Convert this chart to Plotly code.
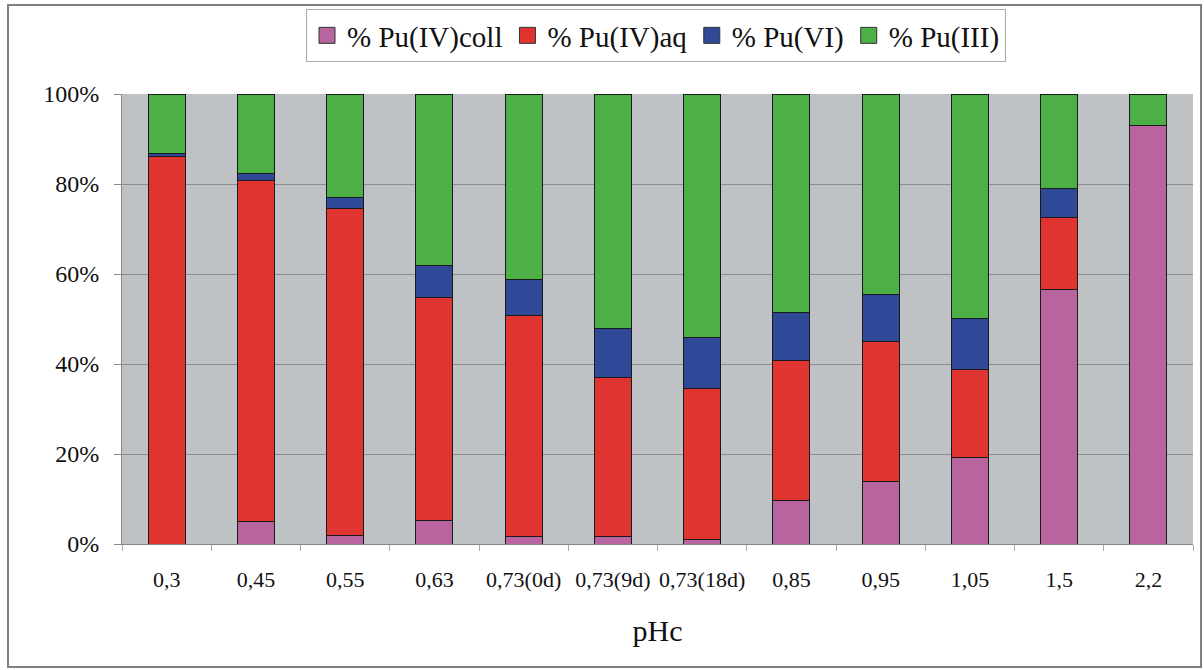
import plotly.graph_objects as go

categories = ["0,3", "0,45", "0,55", "0,63", "0,73(0d)", "0,73(9d)", "0,73(18d)",
              "0,85", "0,95", "1,05", "1,5", "2,2"]
pu_iv_coll = [0.0, 5.0, 1.9, 5.3, 1.6, 1.6, 1.0, 9.6, 13.8, 19.2, 56.6, 93.1]
pu_iv_aq = [86.2, 75.7, 72.6, 49.4, 49.2, 35.3, 33.6, 31.2, 31.3, 19.6, 16.0, 0.0]
pu_vi = [0.6, 1.6, 2.4, 7.3, 8.0, 11.1, 11.4, 10.6, 10.3, 11.3, 6.4, 0.0]
pu_iii = [13.2, 17.7, 23.1, 38.0, 41.2, 52.0, 54.0, 48.6, 44.6, 49.9, 21.0, 6.9]

series = [
    ("% Pu(IV)coll", pu_iv_coll, "#B8649E"),
    ("% Pu(IV)aq", pu_iv_aq, "#E03431"),
    ("% Pu(VI)", pu_vi, "#2F4898"),
    ("% Pu(III)", pu_iii, "#4DB046"),
]

FONT = "Liberation Serif"

fig = go.Figure()
for name, vals, col in series:
    fig.add_trace(go.Bar(
        x=categories, y=vals, name=name, showlegend=False,
        marker=dict(color=col, line=dict(color="#1a1a1a", width=1)),
    ))
# legend entries with larger square swatches
for name, vals, col in series:
    fig.add_trace(go.Scatter(
        x=[categories[0]], y=[None], name=name, mode="markers",
        marker=dict(symbol="square", size=16, color=col,
                    line=dict(color="#333", width=1)),
        hoverinfo="skip",
    ))

W, H = 1204, 670
L, R, T, B = 122, 11, 94, 126
pw, ph = W - L - R, H - T - B

def px2paper_x(px):
    return (px - L) / pw

def px2paper_y(py):
    return (H - B - py) / ph

fig.update_layout(
    width=W, height=H,
    barmode="stack",
    bargap=0.585,
    margin=dict(l=L, r=R, t=T, b=B, autoexpand=False),
    paper_bgcolor="white",
    plot_bgcolor="#BFC2C5",
    font=dict(family=FONT, size=18, color="#111"),
    legend=dict(
        orientation="h",
        x=px2paper_x(656), xanchor="center",
        y=px2paper_y(9), yanchor="top",
        font=dict(family=FONT, size=29, color="#111"),
        bordercolor="#aaa", borderwidth=1,
        bgcolor="white",
        itemwidth=30,
        traceorder="normal",
        itemsizing="trace",
    ),
    xaxis=dict(
        type="category",
        range=[-0.5, len(categories) - 0.5],
        tickfont=dict(family=FONT, size=22),
        tickangle=0,
        ticks="outside", tickson="boundaries", ticklen=6, tickcolor="#aaa",
        ticklabelstandoff=16,
        showline=True, linecolor="#888", linewidth=1,
        title=dict(text="pHc", font=dict(family=FONT, size=30), standoff=28),
        showgrid=False,
        automargin=False,
    ),
    yaxis=dict(
        range=[0, 100],
        tickvals=[0, 20, 40, 60, 80, 100],
        ticktext=["0%", "20%", "40%", "60%", "80%", "100%"],
        tickfont=dict(family=FONT, size=24),
        ticks="outside", ticklen=7, tickcolor="#888",
        ticklabelstandoff=10,
        showgrid=True, gridcolor="#8E8E8E", gridwidth=1,
        showline=True, linecolor="#888", linewidth=1,
        zeroline=False,
        automargin=False,
    ),
    shapes=[dict(
        type="rect", xref="paper", yref="paper",
        x0=px2paper_x(8), x1=px2paper_x(1201),
        y0=px2paper_y(667), y1=px2paper_y(5),
        line=dict(color="#808080", width=2), fillcolor="rgba(0,0,0,0)",
        layer="below",
    )],
)

fig.write_html("out.html",
               config={"displayModeBar": False},
               post_script="document.body.style.margin='0';document.body.style.overflow='hidden';")
